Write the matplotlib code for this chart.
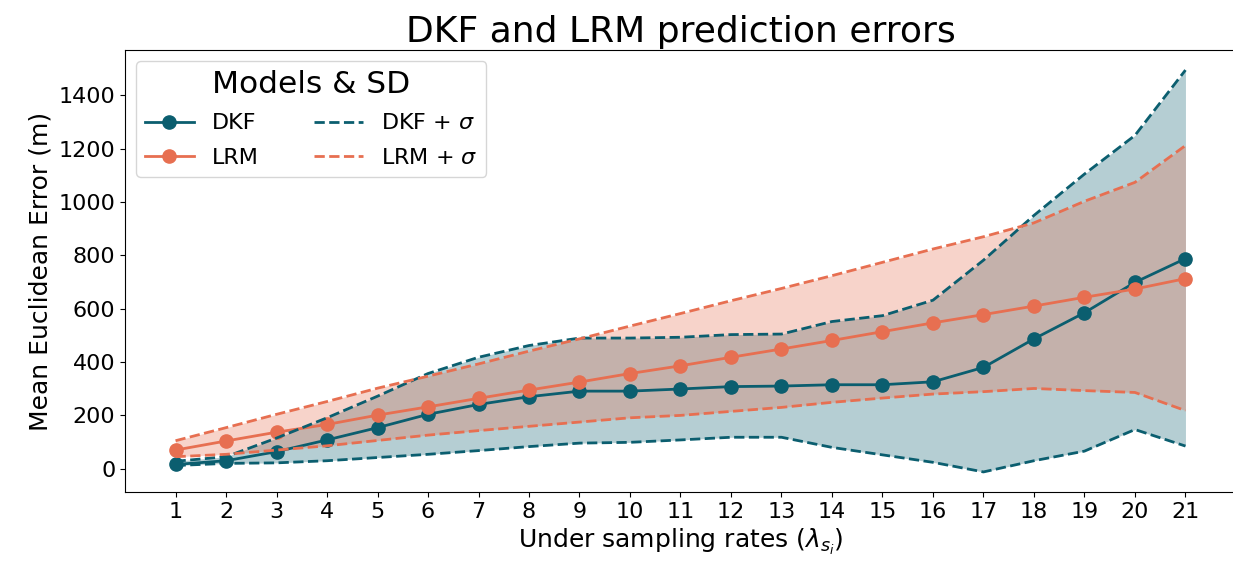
import numpy as np
import matplotlib
matplotlib.use("Agg")
import matplotlib.pyplot as plt

rates = list(range(1, 22))

dkf_mean = [16, 30, 64, 108, 154, 204, 241, 270, 291, 291,
            299, 308, 310, 315, 315, 326, 380, 487, 585, 699, 788]
dkf_upper = [28, 45, 115, 191, 272, 357, 418, 462, 490, 490,
             493, 503, 505, 552, 574, 632, 782, 950, 1105, 1250, 1495]
dkf_lower = [12, 20, 22, 30, 42, 54, 68, 83, 96, 99,
             108, 118, 118, 80, 52, 24, -12, 30, 66, 147, 85]

lrm_mean = [70, 104, 137, 166, 201, 232, 264, 295, 325, 357,
            386, 418, 449, 481, 514, 547, 578, 610, 643, 674, 713]
lrm_upper = [105, 154, 204, 252, 302, 347, 393, 441, 487, 535,
             582, 630, 676, 724, 774, 824, 870, 922, 1003, 1074, 1212]
lrm_lower = [45, 54, 70, 86, 106, 126, 143, 159, 175, 191,
             200, 215, 230, 249, 265, 280, 289, 301, 293, 286, 218]

c_dkf = '#0b5e6f'
c_lrm = '#e76f51'

fig = plt.figure(figsize=(12.33, 5.66), dpi=100)
ax = fig.add_axes([0.1014, 0.1307, 0.901, 0.781])

# DKF band first, LRM band on top (gives the brownish overlap)
ax.fill_between(rates, dkf_lower, dkf_upper, color=c_dkf, alpha=0.3, lw=0)
ax.fill_between(rates, lrm_lower, lrm_upper, color=c_lrm, alpha=0.3, lw=0)

ax.plot(rates, dkf_mean, '-o', color=c_dkf, lw=2, ms=9.5, label='DKF')
ax.plot(rates, lrm_mean, '-o', color=c_lrm, lw=2, ms=9.5, label='LRM')
ax.plot(rates, dkf_upper, '--', color=c_dkf, lw=2, label=r'DKF + $\sigma$')
ax.plot(rates, dkf_lower, '--', color=c_dkf, lw=2)
ax.plot(rates, lrm_upper, '--', color=c_lrm, lw=2, label=r'LRM + $\sigma$')
ax.plot(rates, lrm_lower, '--', color=c_lrm, lw=2)

ax.set_xticks(rates)
ax.set_xlim(0, 22)
ax.tick_params(labelsize=16)
ax.set_title('DKF and LRM prediction errors', fontsize=26)
ax.set_xlabel(r'Under sampling rates ($\lambda_{s_i}$)', fontsize=18)
ax.set_ylabel('Mean Euclidean Error (m)', fontsize=18)

h, l = ax.get_legend_handles_labels()
leg = ax.legend(h, l, ncol=2, title='Models & SD', fontsize=16,
                title_fontsize=22.5, loc='upper left', handlelength=2.2,
                labelspacing=0.65, columnspacing=2.5)

fig.savefig('out.png', dpi=100)
